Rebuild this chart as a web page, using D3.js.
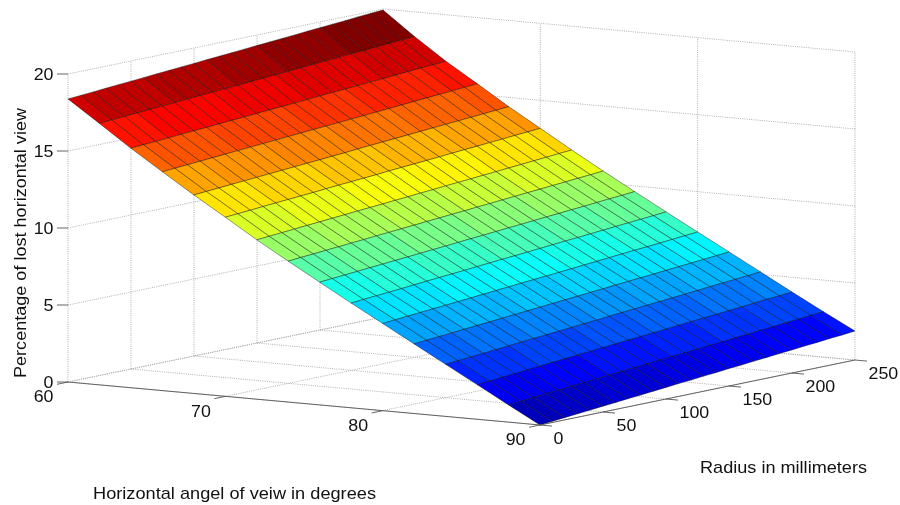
<!DOCTYPE html>
<html>
<head>
<meta charset="utf-8">
<style>
html, body { margin: 0; padding: 0; background: #fff; }
svg { filter: blur(0.3px); }
text { font-family: "Liberation Sans", Arial, sans-serif; fill: #111; }
</style>
<script src="https://cdn.jsdelivr.net/npm/d3@7"></script>
</head>
<body>
<div id="chart"></div>
<script>
var angles = [60, 62, 64, 66, 68, 70, 72, 74, 76, 78, 80, 82, 84, 86, 88, 90];
var radii = [0, 10, 20, 30, 40, 50, 60, 70, 80, 90, 100, 110, 120, 130, 140, 150, 160, 170, 180, 190, 200, 210, 220, 230, 240, 250];

// percentage lost, one row per angle, one value per radius
var lost60 = [18.38,18.44,18.50,18.57,18.63,18.69,18.75,18.82,18.88,18.94,19.00,19.07,19.13,19.19,19.25,19.32,19.38,19.44,19.50,19.57,19.63,19.69,19.75,19.82,19.88,19.94];
var lost62 = [16.98,17.04,17.09,17.15,17.21,17.26,17.32,17.38,17.43,17.49,17.55,17.60,17.66,17.72,17.77,17.83,17.89,17.95,18.00,18.06,18.12,18.17,18.23,18.29,18.34,18.40];
var lost64 = [15.55,15.61,15.66,15.72,15.78,15.84,15.89,15.95,16.01,16.06,16.12,16.18,16.24,16.29,16.35,16.41,16.47,16.52,16.58,16.64,16.69,16.75,16.81,16.87,16.92,16.98];
var lost66 = [14.21,14.27,14.33,14.39,14.45,14.51,14.57,14.63,14.69,14.75,14.81,14.87,14.93,14.98,15.04,15.10,15.16,15.22,15.28,15.34,15.40,15.46,15.52,15.58,15.64,15.70];
var lost68 = [12.89,12.95,13.01,13.07,13.13,13.19,13.25,13.31,13.37,13.43,13.49,13.55,13.61,13.68,13.74,13.80,13.86,13.92,13.98,14.04,14.10,14.16,14.22,14.28,14.34,14.40];
var lost70 = [11.63,11.69,11.75,11.82,11.88,11.94,12.00,12.06,12.13,12.19,12.25,12.31,12.37,12.44,12.50,12.56,12.62,12.68,12.75,12.81,12.87,12.93,12.99,13.06,13.12,13.18];
var lost72 = [10.35,10.41,10.48,10.54,10.61,10.67,10.74,10.80,10.87,10.93,10.99,11.06,11.12,11.19,11.25,11.32,11.38,11.44,11.51,11.57,11.64,11.70,11.77,11.83,11.90,11.96];
var lost74 = [9.15,9.22,9.28,9.35,9.41,9.48,9.54,9.61,9.67,9.74,9.80,9.87,9.93,10.00,10.06,10.13,10.19,10.26,10.32,10.39,10.45,10.52,10.58,10.65,10.71,10.78];
var lost76 = [7.97,8.04,8.10,8.17,8.24,8.30,8.37,8.43,8.50,8.57,8.63,8.70,8.77,8.83,8.90,8.97,9.03,9.10,9.17,9.23,9.30,9.36,9.43,9.50,9.56,9.63];
var lost78 = [6.80,6.87,6.94,7.00,7.07,7.14,7.21,7.28,7.34,7.41,7.48,7.55,7.62,7.68,7.75,7.82,7.89,7.96,8.02,8.09,8.16,8.23,8.30,8.36,8.43,8.50];
var lost80 = [5.66,5.73,5.80,5.87,5.94,6.00,6.07,6.14,6.21,6.28,6.35,6.42,6.49,6.55,6.62,6.69,6.76,6.83,6.90,6.97,7.04,7.10,7.17,7.24,7.31,7.38];
var lost82 = [4.52,4.59,4.66,4.73,4.80,4.87,4.94,5.01,5.08,5.15,5.22,5.29,5.36,5.43,5.50,5.57,5.64,5.71,5.78,5.85,5.92,5.99,6.06,6.13,6.20,6.27];
var lost84 = [3.38,3.45,3.52,3.59,3.66,3.74,3.81,3.88,3.95,4.02,4.09,4.16,4.23,4.31,4.38,4.45,4.52,4.59,4.66,4.73,4.80,4.88,4.95,5.02,5.09,5.16];
var lost86 = [2.25,2.32,2.39,2.46,2.54,2.61,2.68,2.75,2.82,2.89,2.97,3.04,3.11,3.18,3.25,3.32,3.40,3.47,3.54,3.61,3.68,3.75,3.83,3.90,3.97,4.04];
var lost88 = [1.12,1.19,1.27,1.34,1.41,1.49,1.56,1.63,1.71,1.78,1.85,1.93,2.00,2.07,2.14,2.22,2.29,2.36,2.44,2.51,2.58,2.66,2.73,2.80,2.88,2.95];
var lost90 = [0,0.08,0.15,0.23,0.30,0.38,0.45,0.53,0.60,0.68,0.75,0.83,0.90,0.98,1.05,1.13,1.20,1.28,1.35,1.43,1.50,1.58,1.65,1.73,1.80,1.88];
var lostRows = [lost60, lost62, lost64, lost66, lost68, lost70, lost72, lost74, lost76, lost78, lost80, lost82, lost84, lost86, lost88, lost90];

var angleTicks = [60, 70, 80, 90];
var radiusTicks = [0, 50, 100, 150, 200, 250];
var lostTicks = [0, 5, 10, 15, 20];

var jetColors = ["#00008f", "#0000ff", "#00ffff", "#ffff00", "#ff0000", "#800000"];

var svg = d3.select("#chart")
            .append("svg")
            .attr("width", 900)
            .attr("height", 505)
            .style("display", "block");

// the box is a parallelogram on screen, so every data axis moves both x and y
var originX = 68, originY = 382;
var angleX = d3.scaleLinear().domain([60, 90]).range([0, 472]);
var angleY = d3.scaleLinear().domain([60, 90]).range([0, 43]);
var radiusX = d3.scaleLinear().domain([0, 250]).range([0, 315]);
var radiusY = d3.scaleLinear().domain([0, 250]).range([0, -65]);
var lostY = d3.scaleLinear().domain([0, 20]).range([0, -308]);

function project(a, r, z) {
    return [originX + angleX(a) + radiusX(r), originY + angleY(a) + radiusY(r) + lostY(z)];
}

var line = d3.line();

var jetPos = d3.scaleLinear()
               .domain([0, 0.125, 0.375, 0.625, 0.875, 1])
               .range(jetColors);
var jet = d3.scaleQuantize()
            .domain([0, d3.max(lostRows, function(row) { return d3.max(row); })])
            .range(d3.range(64).map(function(i) { return jetPos(i / 63); }));

// grid on floor and two back walls
var gridLines = [];
angleTicks.forEach(function(a) {
    gridLines.push([project(a, 0, 0), project(a, 250, 0)]);
    gridLines.push([project(a, 250, 0), project(a, 250, 20)]);
});
radiusTicks.forEach(function(r) {
    gridLines.push([project(60, r, 0), project(90, r, 0)]);
    gridLines.push([project(60, r, 0), project(60, r, 20)]);
});
lostTicks.forEach(function(z) {
    gridLines.push([project(60, 0, z), project(60, 250, z)]);
    gridLines.push([project(60, 250, z), project(90, 250, z)]);
});

svg.append("g").selectAll("path")
   .data(gridLines)
   .enter().append("path")
   .attr("d", line)
   .attr("fill", "none")
   .attr("stroke", "#a8a8a8")
   .attr("stroke-width", 0.9)
   .attr("stroke-dasharray", "1 1.2");

// surface cells, colored by their first corner like flat shading
var cells = [];
d3.range(angles.length - 1).forEach(function(i) {
    d3.range(radii.length - 1).forEach(function(j) {
        cells.push({
            value: lostRows[i][j],
            corners: [
                project(angles[i], radii[j], lostRows[i][j]),
                project(angles[i + 1], radii[j], lostRows[i + 1][j]),
                project(angles[i + 1], radii[j + 1], lostRows[i + 1][j + 1]),
                project(angles[i], radii[j + 1], lostRows[i][j + 1])
            ]
        });
    });
});

svg.append("g").selectAll("path")
   .data(cells)
   .enter().append("path")
   .attr("d", function(d) { return line(d.corners) + "Z"; })
   .attr("fill", function(d) { return jet(d.value); })
   .attr("stroke", "#000")
   .attr("stroke-opacity", 0.6)
   .attr("stroke-width", 0.65)
   .attr("stroke-linejoin", "round");

// axes
var axes = svg.append("g").attr("fill", "none").attr("stroke", "#555").attr("stroke-width", 0.9);

axes.append("path").attr("d", line([project(60, 0, 0), project(90, 0, 0)]));
axes.append("path").attr("d", line([project(90, 0, 0), project(90, 250, 0)]));

axes.selectAll(".angleTick")
    .data(angleTicks)
    .enter().append("path")
    .attr("d", function(a) {
        var p = project(a, 0, 0);
        return line([p, [p[0] - 11, p[1] + 2.3]]);
    });

axes.selectAll(".radiusTick")
    .data(radiusTicks)
    .enter().append("path")
    .attr("d", function(r) {
        var p = project(90, r, 0);
        return line([p, [p[0] + 12, p[1] + 1.1]]);
    });

axes.selectAll(".lostTick")
    .data(lostTicks)
    .enter().append("path")
    .attr("d", function(z) {
        var p = project(60, 0, z);
        return line([p, [p[0] - 11, p[1]]]);
    });

// tick labels, the reference glyphs are wider than they are tall
function digitWidth(v) { return String(v).length * 9.9; }

svg.append("g").selectAll("text")
   .data(lostTicks)
   .enter().append("text")
   .attr("x", function(z) { return project(60, 0, z)[0] - 14.5; })
   .attr("y", function(z) { return project(60, 0, z)[1]; })
   .attr("dy", "0.36em")
   .attr("text-anchor", "end")
   .attr("font-size", 16)
   .attr("textLength", digitWidth)
   .attr("lengthAdjust", "spacingAndGlyphs")
   .text(function(z) { return z; });

svg.append("g").selectAll("text")
   .data(angleTicks)
   .enter().append("text")
   .attr("x", function(a) { return project(a, 0, 0)[0] - 14.5; })
   .attr("y", function(a) { return project(a, 0, 0)[1] + 14.5; })
   .attr("dy", "0.36em")
   .attr("text-anchor", "end")
   .attr("font-size", 16)
   .attr("textLength", digitWidth)
   .attr("lengthAdjust", "spacingAndGlyphs")
   .text(function(a) { return a; });

svg.append("g").selectAll("text")
   .data(radiusTicks)
   .enter().append("text")
   .attr("x", function(r) { return project(90, r, 0)[0] + 13.5; })
   .attr("y", function(r) { return project(90, r, 0)[1] + 13.5; })
   .attr("dy", "0.36em")
   .attr("text-anchor", "start")
   .attr("font-size", 16)
   .attr("textLength", digitWidth)
   .attr("lengthAdjust", "spacingAndGlyphs")
   .text(function(r) { return r; });

// axis titles
svg.append("text")
   .attr("x", 234.5)
   .attr("y", 493)
   .attr("dy", "0.36em")
   .attr("text-anchor", "middle")
   .attr("font-size", 17)
   .attr("textLength", 283)
   .attr("lengthAdjust", "spacingAndGlyphs")
   .text("Horizontal angel of veiw in degrees");

svg.append("text")
   .attr("x", 783.5)
   .attr("y", 467)
   .attr("dy", "0.36em")
   .attr("text-anchor", "middle")
   .attr("font-size", 17)
   .attr("textLength", 167)
   .attr("lengthAdjust", "spacingAndGlyphs")
   .text("Radius in millimeters");

svg.append("text")
   .attr("transform", "translate(19.5,243) rotate(-90)")
   .attr("dy", "0.36em")
   .attr("text-anchor", "middle")
   .attr("font-size", 17)
   .attr("textLength", 270)
   .attr("lengthAdjust", "spacingAndGlyphs")
   .text("Percentage of lost horizontal view");
</script>
</body>
</html>
